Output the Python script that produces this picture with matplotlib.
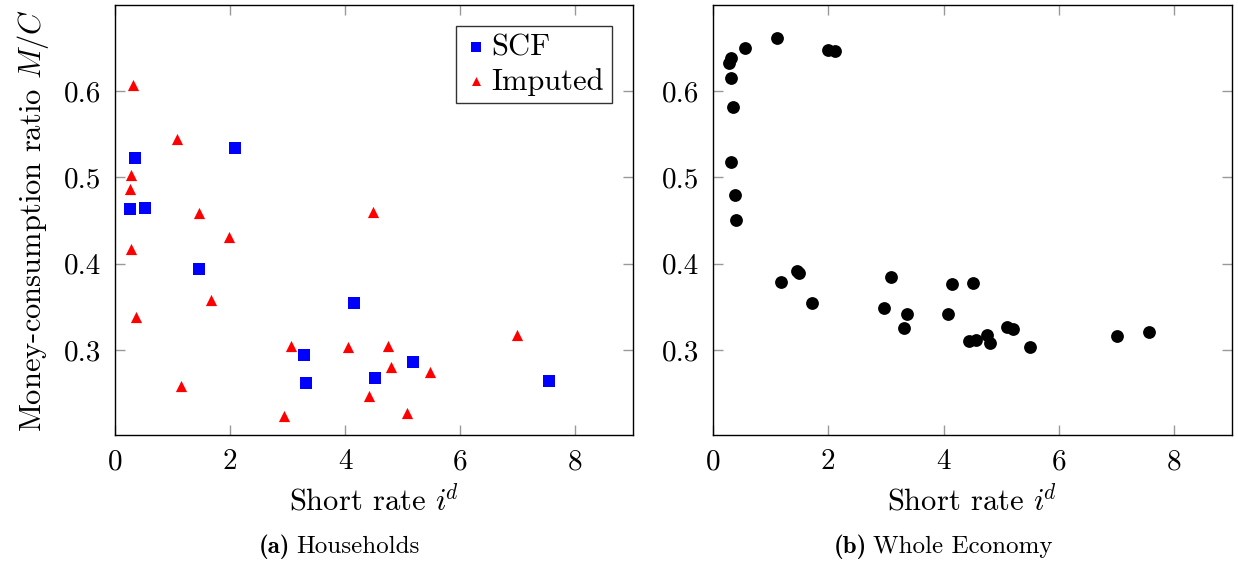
import matplotlib
matplotlib.use("Agg")
import matplotlib.pyplot as plt

plt.rcParams['font.family'] = 'cmr10'
plt.rcParams['mathtext.fontset'] = 'cm'
plt.rcParams['axes.formatter.use_mathtext'] = True

# Households: SCF survey years
scf_x = [0.26, 0.35, 0.52, 1.46, 2.09, 4.15, 3.28, 3.32, 4.52, 5.18, 7.54]
scf_y = [0.463, 0.523, 0.464, 0.394, 0.534, 0.355, 0.294, 0.262, 0.268, 0.286, 0.264]

# Households: imputed years
imp_x = [0.31, 1.07, 0.28, 0.26, 1.46, 4.49, 1.98, 0.28, 1.67, 0.37,
         1.14, 3.06, 4.04, 2.93, 4.41, 6.98, 4.74, 4.79, 5.47, 5.07]
imp_y = [0.607, 0.544, 0.503, 0.486, 0.459, 0.460, 0.431, 0.417, 0.358, 0.338,
         0.258, 0.305, 0.303, 0.224, 0.247, 0.317, 0.305, 0.280, 0.275, 0.227]

# Whole economy
eco_x = [1.11, 0.56, 2.00, 2.12, 0.31, 0.28, 0.31, 0.34, 0.31, 0.39, 0.40,
         1.18, 1.45, 1.49, 1.71, 3.09, 2.96, 3.36, 3.32, 4.07, 4.15,
         4.51, 4.44, 4.57, 4.76, 4.80, 5.10, 5.20, 5.49, 7.01, 7.56]
eco_y = [0.662, 0.650, 0.648, 0.646, 0.638, 0.632, 0.615, 0.582, 0.518, 0.480, 0.451,
         0.379, 0.391, 0.389, 0.355, 0.384, 0.349, 0.342, 0.325, 0.342, 0.377,
         0.378, 0.310, 0.311, 0.317, 0.308, 0.327, 0.324, 0.303, 0.316, 0.321]

xticks = [0, 2, 4, 6, 8]
yticks = [0.3, 0.4, 0.5, 0.6]

fig = plt.figure(figsize=(12.38, 5.75), dpi=100)
ax1 = fig.add_axes([0.0929, 0.2435, 0.4184, 0.7478])
ax2 = fig.add_axes([0.5759, 0.2435, 0.4192, 0.7478])

ax1.scatter(scf_x, scf_y, marker='s', s=80, c='#0000ff', linewidths=0, label='SCF', zorder=3)
ax1.scatter(imp_x, imp_y, marker='^', s=65, c='#ff0000', linewidths=0, label='Imputed', zorder=3)
ax2.scatter(eco_x, eco_y, marker='o', s=85, c='black', linewidths=0, zorder=3)

for ax in (ax1, ax2):
    ax.set_xlim(0, 9)
    ax.set_ylim(0.2015, 0.6997)
    ax.set_xticks(xticks)
    ax.set_yticks(yticks)
    ax.set_xticklabels([str(t) for t in xticks])
    ax.set_yticklabels(['%.1f' % t for t in yticks])
    ax.tick_params(direction='in', length=7, width=1, color='#999999',
                   top=True, right=True, labelsize=21, pad=10)
    for sp in ax.spines.values():
        sp.set_color('black')
        sp.set_linewidth(1.0)
    ax.set_xlabel(r'Short rate $i^{\!d}$', fontsize=22, labelpad=7)

ax1.set_ylabel('Money-consumption ratio $M/C$', fontsize=22, labelpad=9)

leg = ax1.legend(loc='upper right', fontsize=22, frameon=True, fancybox=False,
                 edgecolor='black', borderpad=0.25, handletextpad=0.1,
                 labelspacing=0.2, handlelength=0.8, borderaxespad=0.7,
                 markerscale=0.8)
leg.get_frame().set_linewidth(1.0)

# subcaptions: bold tag + regular text
fig.text(0.2345, 0.038, '(a)', fontsize=18, family='cmb10', ha='right')
fig.text(0.2395, 0.038, 'Households', fontsize=18, ha='left')
fig.text(0.7000, 0.038, '(b)', fontsize=18, family='cmb10', ha='right')
fig.text(0.7050, 0.038, 'Whole Economy', fontsize=18, ha='left')

plt.savefig('out.png', dpi=100)
